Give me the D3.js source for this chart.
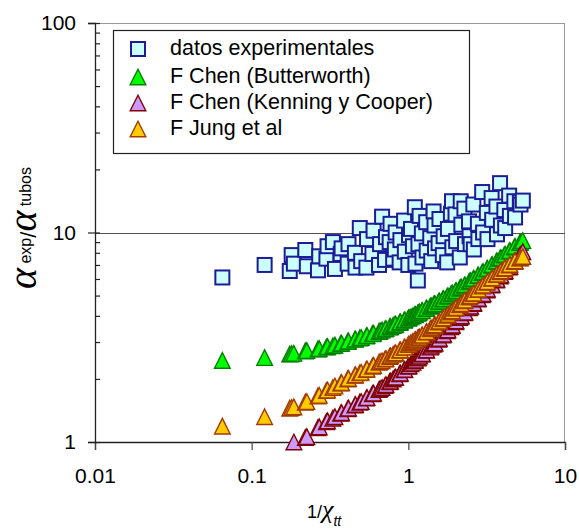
<!DOCTYPE html>
<html>
<head>
<meta charset="utf-8">
<script src="https://cdn.jsdelivr.net/npm/d3@7"></script>
<style>
  html, body { margin: 0; padding: 0; background: #fff; }
  svg { display: block; font-family: "Liberation Sans", Arial, sans-serif; }
</style>
</head>
<body>
<svg id="chart" width="579" height="532"></svg>
<script>
// 1/Xtt (inverse Lockhart-Martinelli parameter) for each test point
const invXtt = [
  0.065, 0.121, 0.175, 0.18, 0.186, 0.22, 0.225, 0.265, 0.27, 0.3,
  0.305, 0.33, 0.34, 0.37, 0.375, 0.41, 0.415, 0.456, 0.46, 0.49,
  0.5, 0.54, 0.545, 0.59, 0.6, 0.65, 0.66, 0.68, 0.71, 0.72,
  0.76, 0.77, 0.8, 0.82, 0.83, 0.88, 0.89, 0.94, 0.95, 1.0,
  1.01, 1.04, 1.07, 1.1, 1.11, 1.15, 1.16, 1.18, 1.22, 1.23,
  1.3, 1.31, 1.38, 1.4, 1.45, 1.47, 1.48, 1.56, 1.58, 1.66,
  1.68, 1.77, 1.79, 1.87, 1.9, 1.91, 2.0, 2.02, 2.13, 2.16,
  2.18, 2.28, 2.3, 2.44, 2.46, 2.5, 2.6, 2.62, 2.78, 2.8,
  2.96, 3.0, 3.17, 3.2, 3.4, 3.43, 3.65, 3.68, 3.85, 3.9,
  4.1, 4.15, 4.4, 4.45, 4.75, 4.8, 5.15, 5.2, 5.38
];

// alpha_exp / alpha_tubos, measured
const datosExperimentales = [
  6.1, 7.0, 6.55, 7.8, 7.1, 8.25, 6.9, 6.6, 7.7, 7.5,
  8.6, 9.0, 6.7, 7.9, 8.4, 7.1, 8.8, 8.0, 6.8, 10.5,
  7.3, 6.8, 9.3, 7.9, 10.2, 7.0, 8.8, 11.9, 7.4, 9.5,
  9.0, 11.0, 7.5, 8.3, 10.0, 7.2, 9.2, 11.4, 8.1, 7.0,
  9.7, 10.4, 8.6, 13.2, 7.1, 5.9, 8.8, 12.0, 9.9, 7.6,
  11.2, 8.2, 9.4, 7.3, 12.6, 10.8, 8.4, 8.9, 11.6, 7.8,
  9.6, 7.2, 10.4, 12.3, 14.1, 8.5, 12.2, 9.1, 7.6, 14.1,
  10.9, 13.0, 8.8, 11.3, 9.6, 8.8, 13.6, 8.3, 11.0, 9.3,
  15.6, 10.0, 12.4, 9.3, 14.6, 11.5, 13.3, 9.8, 17.2, 10.8,
  12.8, 10.5, 15.0, 12.0, 14.1, 11.8, 14.0, 13.6, 14.2
];

// F Chen (Butterworth)
const chenButterworth = [
  2.45, 2.53, 2.63, 2.64, 2.65, 2.72, 2.73, 2.78, 2.79, 2.84,
  2.85, 2.88, 2.9, 2.95, 2.96, 3.02, 3.03, 3.09, 3.1, 3.14,
  3.15, 3.21, 3.22, 3.29, 3.3, 3.37, 3.39, 3.42, 3.46, 3.48,
  3.54, 3.55, 3.6, 3.63, 3.65, 3.72, 3.74, 3.81, 3.83, 3.9,
  3.92, 3.96, 4.0, 4.05, 4.06, 4.12, 4.14, 4.17, 4.23, 4.24,
  4.34, 4.35, 4.45, 4.47, 4.54, 4.56, 4.57, 4.68, 4.7, 4.81,
  4.83, 4.96, 4.98, 5.08, 5.12, 5.13, 5.25, 5.28, 5.42, 5.46,
  5.48, 5.6, 5.63, 5.82, 5.85, 5.9, 6.02, 6.04, 6.24, 6.26,
  6.45, 6.5, 6.7, 6.74, 6.98, 7.02, 7.28, 7.32, 7.52, 7.58,
  7.81, 7.87, 8.14, 8.2, 8.52, 8.58, 8.95, 9.0, 9.15
];

// F Chen (Kenning y Cooper); null where the value lies below the axis
const chenKenningCooper = [
  null, null, null, null, 1.0, 1.05, 1.06, 1.17, 1.18, 1.25,
  1.26, 1.3, 1.32, 1.37, 1.38, 1.44, 1.45, 1.5, 1.51, 1.55,
  1.56, 1.62, 1.63, 1.7, 1.71, 1.78, 1.8, 1.82, 1.86, 1.88,
  1.94, 1.95, 2.0, 2.03, 2.04, 2.12, 2.13, 2.21, 2.22, 2.3,
  2.31, 2.36, 2.4, 2.45, 2.46, 2.52, 2.54, 2.57, 2.63, 2.64,
  2.74, 2.75, 2.84, 2.87, 2.93, 2.96, 2.97, 3.09, 3.12, 3.24,
  3.27, 3.4, 3.43, 3.55, 3.6, 3.61, 3.75, 3.78, 3.93, 3.98,
  4.0, 4.14, 4.17, 4.37, 4.39, 4.45, 4.58, 4.61, 4.82, 4.84,
  5.05, 5.1, 5.32, 5.36, 5.62, 5.66, 5.94, 5.98, 6.2, 6.27,
  6.51, 6.57, 6.85, 6.9, 7.27, 7.33, 7.78, 7.84, 8.1
];

// F Jung et al
const jungEtAl = [
  1.19, 1.32, 1.45, 1.46, 1.47, 1.55, 1.56, 1.66, 1.67, 1.76,
  1.77, 1.82, 1.85, 1.91, 1.92, 2.0, 2.01, 2.08, 2.09, 2.14,
  2.15, 2.22, 2.23, 2.3, 2.32, 2.4, 2.42, 2.44, 2.49, 2.5,
  2.56, 2.58, 2.62, 2.65, 2.66, 2.74, 2.75, 2.83, 2.84, 2.92,
  2.93, 2.98, 3.02, 3.06, 3.08, 3.13, 3.15, 3.17, 3.23, 3.24,
  3.35, 3.36, 3.47, 3.5, 3.57, 3.6, 3.62, 3.74, 3.77, 3.88,
  3.91, 4.03, 4.06, 4.17, 4.21, 4.22, 4.35, 4.38, 4.52, 4.56,
  4.58, 4.72, 4.75, 4.92, 4.95, 5.0, 5.12, 5.14, 5.34, 5.36,
  5.55, 5.6, 5.79, 5.82, 6.04, 6.07, 6.3, 6.33, 6.5, 6.55,
  6.74, 6.78, 7.0, 7.05, 7.28, 7.32, 7.55, 7.58, 7.68
];

const xTickValues = [0.01, 0.1, 1, 10];
const xTickLabels = ["0.01", "0.1", "1", "10"];
const yTickValues = [1, 10, 100];
const yTickLabels = ["1", "10", "100"];
const yGridValues = [10];

const seriesNames = [
  "datos experimentales",
  "F Chen (Butterworth)",
  "F Chen (Kenning y Cooper)",
  "F Jung et al"
];

const svg = d3.select("#chart");
const plot = { left: 95, right: 565, top: 23, bottom: 442 };

const x = d3.scaleLog().domain([0.01, 10]).range([plot.left, plot.right]);
const y = d3.scaleLog().domain([1, 100]).range([plot.bottom, plot.top]);

const FONT = "'Liberation Sans', Arial, sans-serif";
const SERIF = "'Liberation Serif', 'Times New Roman', serif";

// plot frame (top/right in grey)
svg.append("line")
  .attr("x1", plot.left).attr("x2", plot.right)
  .attr("y1", plot.top + 0.5).attr("y2", plot.top + 0.5)
  .attr("stroke", "#9a9a9a").attr("stroke-width", 1);
svg.append("line")
  .attr("x1", plot.right - 0.5).attr("x2", plot.right - 0.5)
  .attr("y1", plot.top).attr("y2", plot.bottom)
  .attr("stroke", "#9a9a9a").attr("stroke-width", 1);

// major gridline
svg.append("g").selectAll("line").data(yGridValues).join("line")
  .attr("x1", plot.left).attr("x2", plot.right)
  .attr("y1", d => Math.round(y(d)) + 0.5).attr("y2", d => Math.round(y(d)) + 0.5)
  .attr("stroke", "#505050").attr("stroke-width", 1.2);

// x axis
const xAxis = d3.axisBottom(x)
  .tickValues(xTickValues)
  .tickFormat((d, i) => xTickLabels[i])
  .tickSize(8).tickPadding(18);
const gx = svg.append("g")
  .attr("transform", `translate(0,${plot.bottom})`)
  .call(xAxis);
gx.select(".domain").attr("stroke", "#222").attr("stroke-width", 1.3);
gx.selectAll(".tick line").attr("stroke", "#444").attr("stroke-width", 1.2);
gx.selectAll("text").attr("font-family", FONT).attr("font-size", 21).attr("fill", "#000");

// y axis: outward part of the major ticks plus labels
const yAxis = d3.axisLeft(y)
  .tickValues(yTickValues)
  .tickFormat((d, i) => yTickLabels[i])
  .tickSize(7).tickPadding(12);
const gy = svg.append("g")
  .attr("transform", `translate(${plot.left},0)`)
  .call(yAxis);
gy.select(".domain").attr("stroke", "#222").attr("stroke-width", 1.3);
gy.selectAll(".tick line").attr("stroke", "#222").attr("stroke-width", 1.2);
gy.selectAll("text").attr("font-family", FONT).attr("font-size", 21).attr("fill", "#000");

// y axis: inward minor + major ticks
const minorValues = [];
[1, 10].forEach(dec => { for (let k = 2; k <= 9; k++) minorValues.push(dec * k); });
const yInner = d3.axisRight(y)
  .tickValues(yTickValues.concat(minorValues))
  .tickFormat("")
  .tickSize(5).tickSizeOuter(0);
const gyi = svg.append("g")
  .attr("transform", `translate(${plot.left},0)`)
  .call(yInner);
gyi.select(".domain").remove();
gyi.selectAll(".tick line").attr("stroke", "#222").attr("stroke-width", 1.2);

// markers
const triangle = s => `M0,${-s}L${s},${s}L${-s},${s}Z`;

function points(values) {
  return invXtt.map((v, i) => ({ x: v, y: values[i] }))
    .filter(d => d.y != null && d.y >= 1 && d.y <= 100);
}

const styles = [
  { data: datosExperimentales, shape: "square", fill: "#ccffff", stroke: "#1c1c96", sw: 2 },
  { data: chenButterworth, shape: "triangle", fill: "#00ff00", stroke: "#008000", sw: 1.4 },
  { data: chenKenningCooper, shape: "triangle", fill: "#cc99ff", stroke: "#800000", sw: 1.4 },
  { data: jungEtAl, shape: "triangle", fill: "#ffcc00", stroke: "#a33a00", sw: 1.4 }
];

styles.forEach(st => {
  const g = svg.append("g");
  const pts = points(st.data);
  if (st.shape === "square") {
    g.selectAll("rect").data(pts).join("rect")
      .attr("x", d => x(d.x) - 7).attr("y", d => y(d.y) - 7)
      .attr("width", 14).attr("height", 14)
      .attr("fill", st.fill).attr("stroke", st.stroke).attr("stroke-width", st.sw);
  } else {
    g.selectAll("path").data(pts).join("path")
      .attr("transform", d => `translate(${x(d.x)},${y(d.y)})`)
      .attr("d", triangle(7.8))
      .attr("fill", st.fill).attr("stroke", st.stroke).attr("stroke-width", st.sw);
  }
});

// legend
const legend = svg.append("g");
legend.append("rect")
  .attr("x", 113.5).attr("y", 30.5).attr("width", 356).attr("height", 123)
  .attr("fill", "#fff").attr("stroke", "#222").attr("stroke-width", 1.2);
const rowY = [49, 77, 103, 129];
styles.forEach((st, i) => {
  const gi = legend.append("g").attr("transform", `translate(138,${rowY[i]})`);
  if (st.shape === "square") {
    gi.append("rect").attr("x", -7).attr("y", -7).attr("width", 14).attr("height", 14)
      .attr("fill", st.fill).attr("stroke", st.stroke).attr("stroke-width", st.sw);
  } else {
    gi.append("path").attr("d", triangle(7.8))
      .attr("fill", st.fill).attr("stroke", st.stroke).attr("stroke-width", st.sw);
  }
  legend.append("text")
    .attr("x", 170).attr("y", rowY[i] + 6)
    .attr("font-family", FONT).attr("font-size", 21.5).attr("fill", "#000")
    .text(seriesNames[i]);
});

// x axis title: 1/χtt
const xt = svg.append("text")
  .attr("x", 307).attr("y", 518)
  .attr("fill", "#000").attr("font-family", FONT);
xt.append("tspan").attr("font-size", 18).text("1/");
xt.append("tspan").attr("font-size", 26).attr("font-style", "italic")
  .attr("font-family", SERIF).text("χ");
xt.append("tspan").attr("font-size", 14).attr("font-style", "italic").attr("dy", 8).text("tt");

// y axis title: α exp / α tubos
const yt = svg.append("text")
  .attr("transform", "translate(36,228) rotate(-90)")
  .attr("text-anchor", "middle").attr("fill", "#000")
  .attr("font-family", FONT);
yt.append("tspan").attr("font-family", SERIF).attr("font-style", "italic").attr("font-size", 40).text("α");
yt.append("tspan").attr("font-size", 16).attr("dy", -5).text(" exp");
yt.append("tspan").attr("font-size", 22).attr("dy", 5).text("/");
yt.append("tspan").attr("font-family", SERIF).attr("font-style", "italic").attr("font-size", 40).text("α");
yt.append("tspan").attr("font-size", 16).attr("dy", -5).text(" tubos");
</script>
</body>
</html>
